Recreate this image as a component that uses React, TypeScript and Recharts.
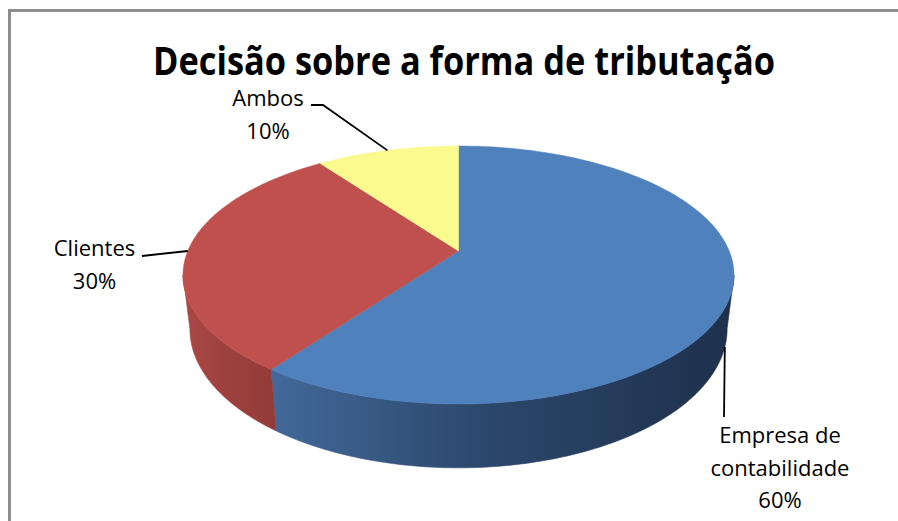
import React from "react";
import { PieChart, Pie } from "recharts";

// dados do gráfico
const CATEGORIES = ["Empresa de\ncontabilidade", "Clientes", "Ambos"];
const SHARES = [60, 30, 10];
const TITLE = "Decisão sobre a forma de tributação";

const TOP_COLORS = ["#4F81BD", "#C0504D", "#FAFA8E"];
const SIDE_COLORS = [
  ["#42699A", "#2C486D", "#1E304C"],
  ["#AC4845", "#9D413E", "#923B39"],
  ["#D9D97A", "#C6C66C", "#B2B260"],
];

// label placement (page coords), by slice index
const LABEL_LAYOUT = [
  { x: 780, y: 443, leader: [[724, 417]] },
  { x: 94.5, y: 256, leader: [[142, 256]] },
  { x: 268, y: 106, leader: [[323, 105], [311, 105]] },
];

const FONT = "'Open Sans', Lato, 'DejaVu Sans', sans-serif";

// fake 3D: tilt + perspective of the pie disc
const TILT = 0.46;
const PERSP = 0.186;
const DEPTH = 0.192;
const BOTTOM_SHRINK = 0.975;
const RAD = Math.PI / 180;
const SILHOUETTE = Math.asin(PERSP) / RAD;

function project(cx: number, cy: number, r: number, deg: number, bottom = false) {
  const u = Math.cos(deg * RAD);
  const v = -Math.sin(deg * RAD);
  const w = 1 - PERSP * v;
  let x = cx + (r * u) / w;
  let y = cy + (r * TILT * v) / w;
  if (bottom) {
    x = cx + (x - cx) * BOTTOM_SHRINK;
    y += (r * DEPTH) / w;
  }
  return [x, y];
}

function arcPoints(cx: number, cy: number, r: number, from: number, to: number, bottom = false) {
  const n = Math.max(2, Math.ceil(Math.abs(to - from)));
  const pts: number[][] = [];
  for (let i = 0; i <= n; i++) {
    pts.push(project(cx, cy, r, from + ((to - from) * i) / n, bottom));
  }
  return pts;
}

const sliceIndex = (p: any) => (p.idx ?? p.payload?.idx ?? 0) as number;

function SideShape(props: any) {
  const { cx, cy, outerRadius, startAngle, endAngle } = props;
  const idx = sliceIndex(props);
  const lo = Math.min(startAngle, endAngle);
  const hi = Math.max(startAngle, endAngle);
  const pieces: number[][] = [];
  for (const k of [-360, 0, 360]) {
    const a = Math.max(lo, -180 + SILHOUETTE + k);
    const b = Math.min(hi, -SILHOUETTE + k);
    if (b > a) pieces.push([a, b]);
  }
  if (!pieces.length) return <g />;

  let minX = Infinity;
  let maxX = -Infinity;
  const paths = pieces.map(([a, b]) => {
    const top = arcPoints(cx, cy, outerRadius, a, b);
    const bot = arcPoints(cx, cy, outerRadius, b, a, true);
    const all = [...top, ...bot];
    all.forEach(([x]) => {
      minX = Math.min(minX, x);
      maxX = Math.max(maxX, x);
    });
    return "M" + all.map(([x, y]) => `${x.toFixed(2)},${y.toFixed(2)}`).join(" L") + " Z";
  });
  const gid = `side-grad-${idx}`;
  const stops = SIDE_COLORS[idx];
  return (
    <g>
      <defs>
        <linearGradient id={gid} gradientUnits="userSpaceOnUse" x1={minX} y1={0} x2={maxX} y2={0}>
          <stop offset="0%" stopColor={stops[0]} />
          <stop offset="45%" stopColor={stops[1]} />
          <stop offset="100%" stopColor={stops[2]} />
        </linearGradient>
      </defs>
      {paths.map((d, i) => (
        <path key={i} d={d} fill={`url(#${gid})`} stroke={`url(#${gid})`} strokeWidth={0.6} />
      ))}
    </g>
  );
}

function TopShape(props: any) {
  const { cx, cy, outerRadius, startAngle, endAngle } = props;
  const idx = sliceIndex(props);
  const pts = arcPoints(cx, cy, outerRadius, startAngle, endAngle);
  const d =
    `M${cx},${cy} L` + pts.map(([x, y]) => `${x.toFixed(2)},${y.toFixed(2)}`).join(" L") + " Z";
  return <path d={d} fill={TOP_COLORS[idx]} stroke={TOP_COLORS[idx]} strokeWidth={0.5} />;
}

function renderLabel(props: any) {
  const { cx, cy, outerRadius, midAngle, percent } = props;
  const idx = sliceIndex(props);
  const layout = LABEL_LAYOUT[idx];
  const front = -Math.sin(midAngle * RAD) > 0.2;
  const anchor = project(cx, cy, outerRadius, midAngle, front);
  const pts = [anchor, ...layout.leader];
  const lines = [...CATEGORIES[idx].split("\n"), `${Math.round(percent * 100)}%`];
  return (
    <g key={`lbl-${idx}`}>
      <polyline
        points={pts.map(([x, y]) => `${x},${y}`).join(" ")}
        fill="none"
        stroke="#000"
        strokeWidth={1.8}
      />
      <text x={layout.x} y={layout.y} textAnchor="middle" fontFamily={FONT} fontSize={22} fill="#000">
        {lines.map((l, i) => (
          <tspan key={i} x={layout.x} dy={i === 0 ? 0 : 32.5}>
            {l}
          </tspan>
        ))}
      </text>
    </g>
  );
}

export default function App() {
  const rows = CATEGORIES.map((name, i) => ({ name, value: SHARES[i], idx: i }));
  const pieProps = {
    data: rows,
    dataKey: "value",
    nameKey: "name",
    cx: 458.5,
    cy: 251,
    outerRadius: 270.7,
    startAngle: 90,
    endAngle: -270,
    isAnimationActive: false,
  };

  return (
    <div style={{ position: "absolute", left: 0, top: 0, width: 898, height: 521, background: "#fff" }}>
      <svg width={898} height={521} style={{ position: "absolute", left: 0, top: 0 }}>
        <line x1={9.5} y1={9} x2={9.5} y2={521} stroke="#8e8e8e" strokeWidth={3} />
        <line x1={8} y1={10.5} x2={898} y2={10.5} stroke="#8e8e8e" strokeWidth={3} />
        <text
          x={464}
          y={75}
          textAnchor="middle"
          fontFamily={FONT}
          fontWeight="bold"
          fontSize={40}
          textLength={622}
          lengthAdjust="spacingAndGlyphs"
          fill="#000"
        >
          {TITLE}
        </text>
      </svg>
      <div style={{ position: "absolute", left: 0, top: 0 }}>
        <PieChart width={898} height={521} margin={{ top: 0, right: 0, bottom: 0, left: 0 }}>
          <Pie
            {...pieProps}
            shape={SideShape}
            inactiveShape={SideShape}
            activeShape={SideShape}
            label={false}
            labelLine={false}
          />
          <Pie
            {...pieProps}
            shape={TopShape}
            inactiveShape={TopShape}
            activeShape={TopShape}
            label={renderLabel}
            labelLine={false}
          />
        </PieChart>
      </div>
    </div>
  );
}
